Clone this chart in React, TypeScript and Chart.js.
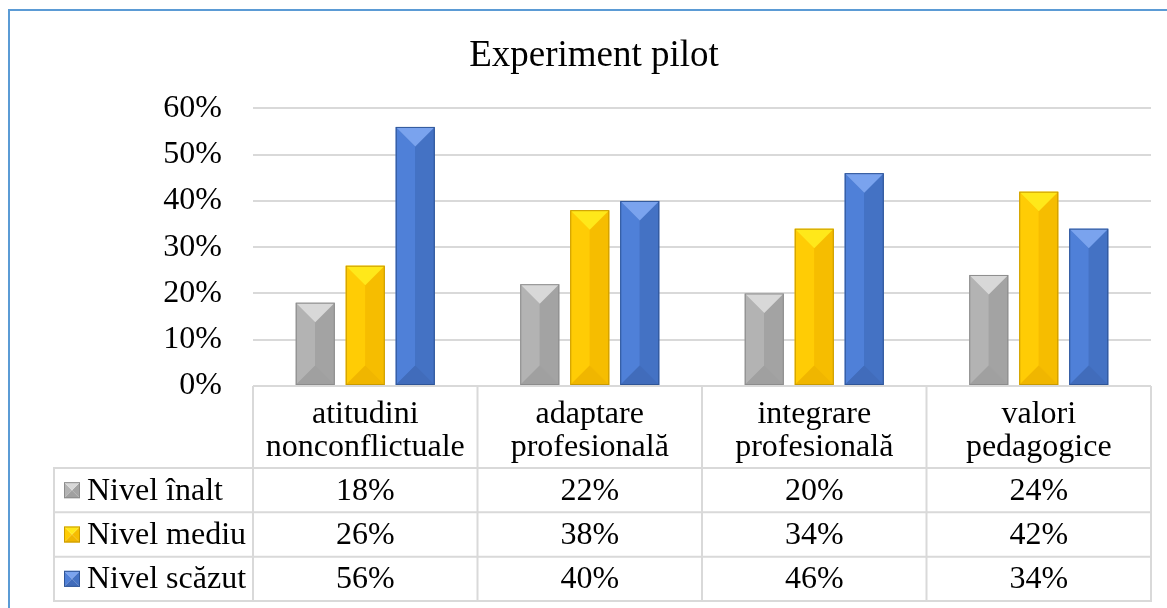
import React, { useEffect, useRef } from "react";
import { Chart, registerables } from "chart.js";

Chart.register(...registerables);

const chartTitle = "Experiment pilot";
const categories = [
  ["atitudini", "nonconflictuale"],
  ["adaptare", "profesională"],
  ["integrare", "profesională"],
  ["valori", "pedagogice"],
];
const seriesNames = ["Nivel înalt", "Nivel mediu", "Nivel scăzut"];
const nivelInalt = [18, 22, 20, 24];
const nivelMediu = [26, 38, 34, 42];
const nivelScazut = [56, 40, 46, 34];
const yMax = 60;
const yStep = 10;

const FONT = "'Liberation Serif', 'Times New Roman', serif";

const palettes = [
  { top: "#d8d8d8", left: "#b3b3b3", right: "#a3a3a3", bottom: "#a0a0a0", edge: "#8c8c8c", base: "#a5a5a5" },
  { top: "#ffe81a", left: "#ffcc05", right: "#f6bd00", bottom: "#f0b600", edge: "#c99a00", base: "#ffc000" },
  { top: "#7aa3ee", left: "#4f80d8", right: "#4472c4", bottom: "#416cbb", edge: "#2f5597", base: "#4472c4" },
];

function drawBevel(ctx: CanvasRenderingContext2D, L: number, T: number, R: number, B: number, p: any) {
  const w = R - L;
  const h = B - T;
  if (w <= 0 || h <= 0) return;
  const d = Math.min(w / 2, h / 2);
  const cx = (L + R) / 2;
  const poly = (pts: number[][], color: string) => {
    ctx.beginPath();
    ctx.moveTo(pts[0][0], pts[0][1]);
    for (let i = 1; i < pts.length; i++) ctx.lineTo(pts[i][0], pts[i][1]);
    ctx.closePath();
    ctx.fillStyle = color;
    ctx.fill();
  };
  ctx.save();
  poly([[L, T], [cx, T + d], [cx, B - d], [L, B]], p.left);
  poly([[R, T], [cx, T + d], [cx, B - d], [R, B]], p.right);
  poly([[L, T], [R, T], [cx, T + d]], p.top);
  poly([[L, B], [R, B], [cx, B - d]], p.bottom);
  ctx.strokeStyle = p.edge;
  ctx.lineWidth = 1;
  ctx.strokeRect(L + 0.5, T + 0.5, w - 1, h - 1);
  ctx.restore();
}

const framePlugin = {
  id: "frame",
  beforeDraw(chart: any) {
    const ctx = chart.ctx;
    ctx.save();
    ctx.fillStyle = "#ffffff";
    ctx.fillRect(0, 0, chart.width, chart.height);
    ctx.fillStyle = "#5b9bd5";
    ctx.fillRect(8, 9, 2, chart.height - 9);
    ctx.fillRect(8, 9, chart.width - 8, 2);
    ctx.restore();
  },
};

const bevelPlugin = {
  id: "bevel",
  afterDatasetsDraw(chart: any) {
    const ctx = chart.ctx;
    chart.data.datasets.forEach((ds: any, di: number) => {
      const meta = chart.getDatasetMeta(di);
      meta.data.forEach((el: any) => {
        const { x, y, base, width } = el.getProps(["x", "y", "base", "width"], true);
        drawBevel(ctx, x - width / 2, Math.min(y, base), x + width / 2, Math.max(y, base), palettes[di]);
      });
    });
  },
};

const tablePlugin = {
  id: "dataTable",
  afterDraw(chart: any) {
    const ctx = chart.ctx;
    const area = chart.chartArea;
    const n = chart.data.labels.length;
    const colW = (area.right - area.left) / n;
    const legendLeft = 54;
    const headerBottom = 468;
    const tableBottom = 601;
    const rowH = (tableBottom - headerBottom) / chart.data.datasets.length;
    ctx.save();
    ctx.strokeStyle = "#d9d9d9";
    ctx.lineWidth = 2;
    ctx.beginPath();
    for (let i = 0; i <= n; i++) {
      const x = area.left + i * colW;
      ctx.moveTo(x, area.bottom);
      ctx.lineTo(x, tableBottom);
    }
    ctx.moveTo(legendLeft, headerBottom);
    ctx.lineTo(legendLeft, tableBottom);
    for (let r = 0; r <= chart.data.datasets.length; r++) {
      const y = headerBottom + r * rowH;
      ctx.moveTo(legendLeft - 1, y);
      ctx.lineTo(area.right + 1, y);
    }
    ctx.stroke();

    ctx.fillStyle = "#000";
    ctx.font = `32px ${FONT}`;
    ctx.textBaseline = "middle";
    chart.data.datasets.forEach((ds: any, di: number) => {
      const cy = headerBottom + di * rowH + rowH / 2;
      drawBevel(ctx, 64, cy - 8, 80, cy + 8, palettes[di]);
      ctx.fillStyle = "#000";
      ctx.textAlign = "left";
      ctx.fillText(ds.label, 87, cy + 1);
      ctx.textAlign = "center";
      ds.data.forEach((v: number, i: number) => {
        ctx.fillText(v + "%", area.left + (i + 0.5) * colW, cy + 1);
      });
    });
    ctx.restore();
  },
};

export default function App() {
  const ref = useRef<HTMLCanvasElement | null>(null);
  useEffect(() => {
    if (!ref.current) return;
    const chart = new Chart(ref.current, {
      type: "bar",
      data: {
        labels: categories,
        datasets: [
          { label: seriesNames[0], data: nivelInalt, backgroundColor: palettes[0].base },
          { label: seriesNames[1], data: nivelMediu, backgroundColor: palettes[1].base },
          { label: seriesNames[2], data: nivelScazut, backgroundColor: palettes[2].base },
        ],
      },
      options: {
        animation: false,
        responsive: true,
        maintainAspectRatio: false,
        color: "#000",
        datasets: { bar: { categoryPercentage: 0.668, barPercentage: 0.78 } },
        layout: { padding: { left: 37, right: 16, top: 0, bottom: 0 } },
        plugins: {
          legend: { display: false },
          tooltip: { enabled: false },
          title: {
            display: true,
            text: chartTitle,
            color: "#000",
            font: { family: FONT, size: 37, weight: "normal", lineHeight: 1.2 },
            padding: { top: 34, bottom: 30 },
          },
        },
        scales: {
          x: {
            grid: { display: false },
            border: { display: false },
            ticks: {
              color: "#000",
              font: { family: FONT, size: 32, lineHeight: "33px" },
              padding: 4,
              maxRotation: 0,
              autoSkip: false,
            },
            afterFit: (s: any) => { s.height = 608 - 386; },
          },
          y: {
            min: 0,
            max: yMax,
            grid: { color: "#d9d9d9", lineWidth: 2, drawTicks: false },
            border: { display: false },
            ticks: {
              stepSize: yStep,
              color: "#000",
              font: { family: FONT, size: 32 },
              padding: 31,
              callback: (v: any) => v + "%",
            },
            afterFit: (s: any) => { s.width = 216; },
          },
        },
      },
      plugins: [framePlugin, bevelPlugin, tablePlugin],
    });
    return () => chart.destroy();
  }, []);
  return (
    <div style={{ position: "fixed", left: 0, top: 0, width: 1167, height: 608, background: "#fff" }}>
      <canvas ref={ref} style={{ width: "100%", height: "100%" }} />
    </div>
  );
}
